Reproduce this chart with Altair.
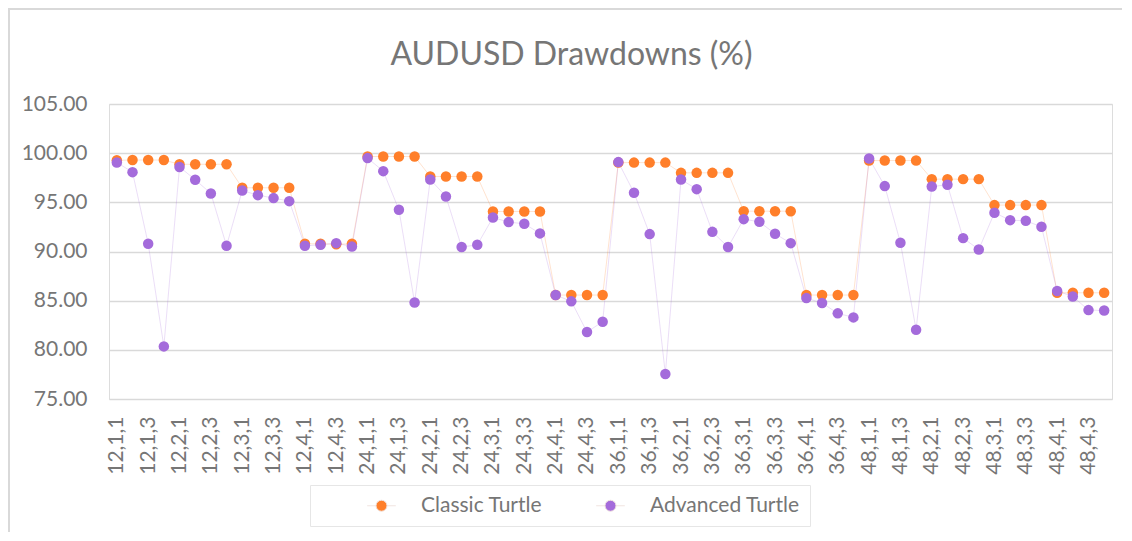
import altair as alt
import pandas as pd

categories = [
    "12,1,1", "12,1,2", "12,1,3", "12,1,4", "12,2,1", "12,2,2", "12,2,3", "12,2,4",
    "12,3,1", "12,3,2", "12,3,3", "12,3,4", "12,4,1", "12,4,2", "12,4,3", "12,4,4",
    "24,1,1", "24,1,2", "24,1,3", "24,1,4", "24,2,1", "24,2,2", "24,2,3", "24,2,4",
    "24,3,1", "24,3,2", "24,3,3", "24,3,4", "24,4,1", "24,4,2", "24,4,3", "24,4,4",
    "36,1,1", "36,1,2", "36,1,3", "36,1,4", "36,2,1", "36,2,2", "36,2,3", "36,2,4",
    "36,3,1", "36,3,2", "36,3,3", "36,3,4", "36,4,1", "36,4,2", "36,4,3", "36,4,4",
    "48,1,1", "48,1,2", "48,1,3", "48,1,4", "48,2,1", "48,2,2", "48,2,3", "48,2,4",
    "48,3,1", "48,3,2", "48,3,3", "48,3,4", "48,4,1", "48,4,2", "48,4,3", "48,4,4",
]

classic = [
    99.28, 99.30, 99.30, 99.30, 98.87, 98.87, 98.87, 98.87,
    96.48, 96.48, 96.48, 96.48, 90.78, 90.78, 90.74, 90.78,
    99.66, 99.66, 99.66, 99.66, 97.63, 97.63, 97.63, 97.63,
    94.07, 94.07, 94.07, 94.07, 85.57, 85.57, 85.57, 85.57,
    99.04, 99.04, 99.04, 99.04, 98.00, 98.00, 98.00, 98.00,
    94.10, 94.10, 94.10, 94.10, 85.57, 85.57, 85.57, 85.57,
    99.25, 99.25, 99.25, 99.25, 97.36, 97.36, 97.36, 97.36,
    94.72, 94.72, 94.72, 94.72, 85.80, 85.80, 85.80, 85.80,
]

advanced = [
    99.05, 98.07, 90.79, 80.35, 98.60, 97.30, 95.90, 90.58,
    96.20, 95.73, 95.43, 95.12, 90.58, 90.68, 90.85, 90.50,
    99.50, 98.17, 94.24, 84.82, 97.32, 95.60, 90.45, 90.68,
    93.46, 92.99, 92.82, 91.84, 85.57, 84.93, 81.81, 82.86,
    99.09, 95.97, 91.77, 77.54, 97.32, 96.34, 92.00, 90.45,
    93.29, 93.02, 91.80, 90.85, 85.26, 84.76, 83.71, 83.30,
    99.46, 96.65, 90.89, 82.05, 96.61, 96.78, 91.36, 90.21,
    93.94, 93.19, 93.12, 92.51, 85.98, 85.43, 84.04, 84.00,
]

series_names = ["Classic Turtle", "Advanced Turtle"]
series_colors = ["#FF7F2A", "#A46BDB"]
y_ticks = [75, 80, 85, 90, 95, 100, 105]
x_tick_labels = categories[::2]

rows = []
for name, vals in zip(series_names, [classic, advanced]):
    for i, (c, v) in enumerate(zip(categories, vals)):
        rows.append({"cat": c, "series": name, "value": v, "idx": i})
df = pd.DataFrame(rows)

FONT = "Lato"
TXT = "#767676"

x_enc = alt.X(
    "cat:O", sort=categories,
    axis=alt.Axis(values=x_tick_labels, labelAngle=-90, labelPadding=17, ticks=False,
                  domain=False, grid=False, labelFont=FONT, labelFontSize=21,
                  labelColor=TXT, title=None, labelOverlap=False),
)
y_enc = alt.Y(
    "value:Q",
    scale=alt.Scale(domain=[75, 105], nice=False, zero=False),
    axis=alt.Axis(values=y_ticks, format=".2f", grid=True, gridColor="#d9d9d9",
                  gridWidth=1.4, domain=False, ticks=False, labelPadding=22,
                  labelFont=FONT, labelFontSize=21, labelColor=TXT, title=None),
)

base = alt.Chart(df)

lines = base.mark_line(strokeWidth=1, opacity=0.22).encode(
    x=x_enc, y=y_enc,
    stroke=alt.Stroke("series:N", scale=alt.Scale(domain=series_names, range=series_colors),
                      legend=None),
    detail="series:N",
    order="idx:Q",
)

legend_symbol = "M-2.6,0L-1,0M1,0L2.6,0M-1,0A1,1,0,1,1,1,0A1,1,0,1,1,-1,0Z"

points = base.mark_point(filled=True, size=110, opacity=1).encode(
    x=x_enc, y=y_enc,
    color=alt.Color(
        "series:N", scale=alt.Scale(domain=series_names, range=series_colors),
        sort=series_names,
        legend=alt.Legend(
            title=None, orient="none", legendX=201, legendY=381,
            direction="horizontal", symbolType=legend_symbol, symbolSize=121,
            symbolStrokeWidth=1, symbolStrokeColor="#f1e4e0",
            labelFont=FONT, labelFontSize=21, labelColor=TXT,
            padding=10, strokeColor="#e6e6e6", symbolOffset=51, labelOffset=29,
            columnPadding=6,
        ),
    ),
    order=alt.Order("series:N", sort="descending"),
)

frame_data = alt.Data(values=[{"k": 0}])
top_border = alt.Chart(frame_data).mark_rule(color="#d9d9d9", strokeWidth=2).encode(
    x=alt.value(-101), x2=alt.value(1013), y=alt.value(-95)
)
left_border = alt.Chart(frame_data).mark_rule(color="#d9d9d9", strokeWidth=2).encode(
    x=alt.value(-100), y=alt.value(-96), y2=alt.value(432)
)

chart = alt.layer(top_border, left_border, lines, points).resolve_scale(
    color="independent", stroke="independent"
).properties(
    width=1003, height=295,
    title=alt.TitleParams(
        "AUDUSD Drawdowns (%)", font=FONT, fontSize=32, color=TXT, fontWeight="normal",
        anchor="middle", frame="group", dx=-39, offset=0, dy=90, baseline="alphabetic",
    ),
    autosize=alt.AutoSizeParams(type="none"),
    padding={"left": 101, "top": 96, "right": 10, "bottom": 133},
).configure_view(stroke=None).configure(background="white")

chart.save("out.html", embed_options={"renderer": "svg", "actions": False})
